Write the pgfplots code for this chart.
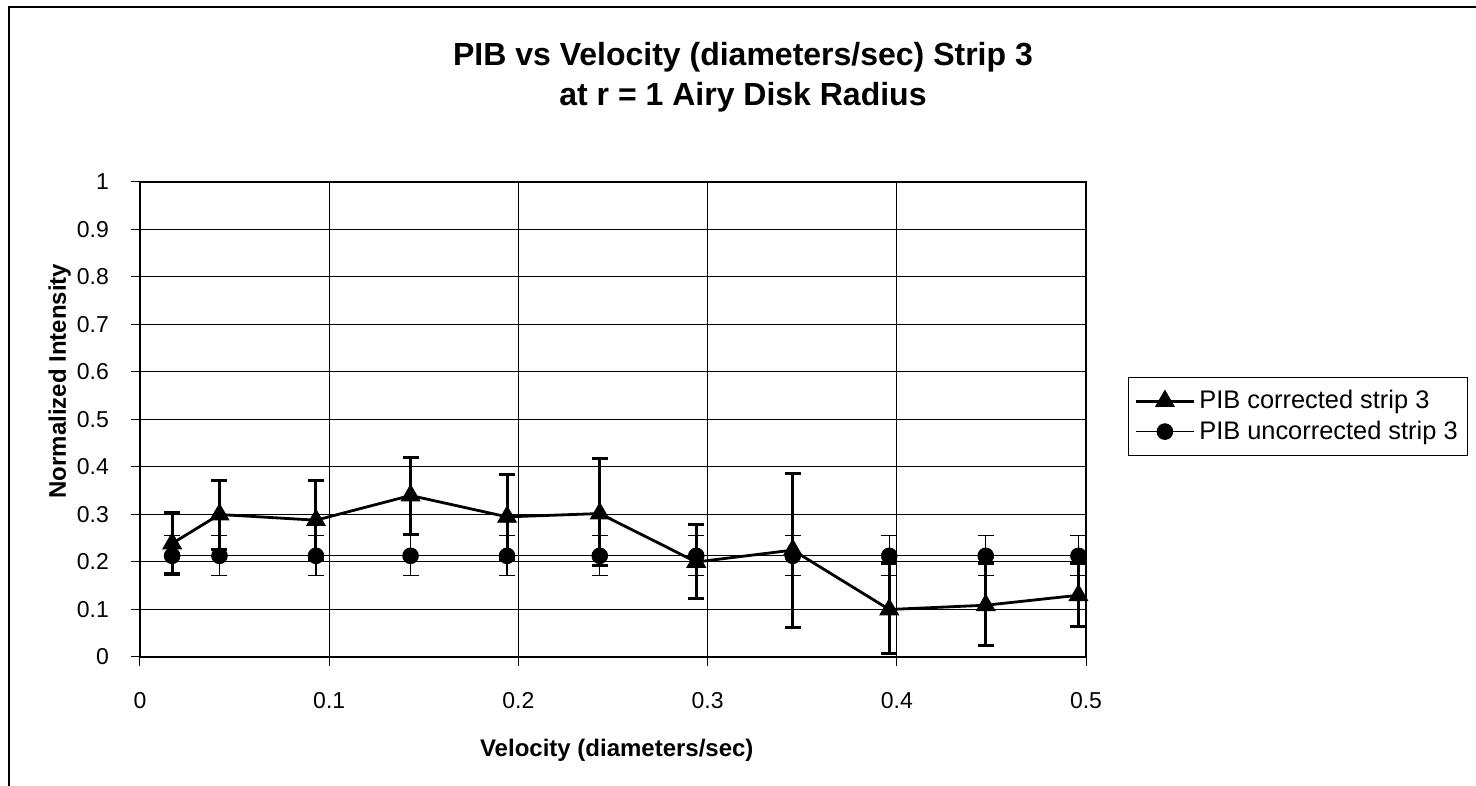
\documentclass[border=0pt]{standalone}
\usepackage{fontspec}
\setmainfont{Liberation Sans}
\usepackage{pgfplots}
\usepackage{pgfplotstable}
\pgfplotsset{compat=1.18}

\pgfplotstableread{
x     y     ep    em
0.017 0.239 0.065 0.063
0.042 0.300 0.072 0.074
0.093 0.288 0.084 0.084
0.143 0.340 0.081 0.082
0.194 0.295 0.089 0.089
0.243 0.302 0.116 0.110
0.294 0.200 0.079 0.077
0.345 0.225 0.162 0.163
0.396 0.100 0.097 0.092
0.447 0.109 0.088 0.084
0.496 0.130 0.067 0.065
}\corrected

\pgfplotstableread{
x     y     ep    em
0.017 0.213 0.042 0.042
0.042 0.213 0.042 0.042
0.093 0.213 0.042 0.042
0.143 0.213 0.042 0.042
0.194 0.213 0.042 0.042
0.243 0.213 0.042 0.042
0.294 0.213 0.042 0.042
0.345 0.213 0.042 0.042
0.396 0.213 0.042 0.042
0.447 0.213 0.042 0.042
0.496 0.213 0.042 0.042
}\uncorrected

\begin{document}
\begin{tikzpicture}
\useasboundingbox (0pt,0pt) rectangle (738pt,393pt);
\draw[line width=1pt] (4.5pt,-10pt) -- (4.5pt,389.5pt) -- (760pt,389.5pt);
\node[font=\bfseries\fontsize{16}{19}\selectfont] at (371.5pt,364.5pt) {PIB vs Velocity (diameters/sec) Strip 3};
\node[font=\bfseries\fontsize{16}{19}\selectfont] at (371.5pt,344.5pt) {at r = 1 Airy Disk Radius};
\begin{axis}[
  at={(70pt,64.5pt)}, anchor=south west,
  scale only axis, width=473pt, height=237.5pt,
  xmin=0, xmax=0.5, ymin=0, ymax=1,
  xtick={0,0.1,0.2,0.3,0.4,0.5},
  ytick={0,0.1,0.2,0.3,0.4,0.5,0.6,0.7,0.8,0.9,1},
  xticklabels={0,0.1,0.2,0.3,0.4,0.5},
  yticklabels={0,0.1,0.2,0.3,0.4,0.5,0.6,0.7,0.8,0.9,1},
  tick align=outside, major tick length=4.5pt,
  xtick pos=bottom, ytick pos=left,
  tick style={black, line width=0.5pt},
  grid=major,
  major grid style={black, line width=0.5pt},
  axis line style={black, line width=0.6pt},
  ticklabel style={font=\fontsize{11.5}{13}\selectfont},
  xticklabel style={yshift=-9.5pt},
  yticklabel style={xshift=-7.5pt},
  xlabel={Velocity (diameters/sec)},
  ylabel={Normalized Intensity},
  xlabel style={font=\bfseries\fontsize{12}{14}\selectfont, at={(axis description cs:0.504,-0.196)}, anchor=center},
  ylabel style={font=\bfseries\fontsize{12}{14}\selectfont, at={(axis description cs:-0.085,0.581)}, anchor=center},
  legend style={at={(rel axis cs:1.0444,0.5895)}, anchor=north west,
    draw=black, line width=0.5pt, font=\fontsize{12.7}{14.5}\selectfont,
    inner xsep=3pt, inner ysep=4.5pt, row sep=0.5pt},
  legend cell align=left,
  legend image code/.code={\draw[mark repeat=2,mark phase=2,#1] plot coordinates {(0pt,0pt) (14.5pt,0pt) (29pt,0pt)};},
  clip=false,
]
\addplot[black, line width=1.4pt, mark=triangle*, mark size=5.4pt,
  mark options={solid, fill=black, line width=0.4pt},
  error bars/.cd, y dir=both, y explicit,
  error bar style={line width=1.5pt},
  error mark options={rotate=90, mark size=4pt, line width=1.5pt}]
  table[x=x, y=y, y error plus=ep, y error minus=em] {\corrected};
\addlegendentry{PIB corrected strip 3}
\addplot[black, line width=0.5pt, mark=*, mark size=3.9pt,
  mark options={solid, fill=black},
  error bars/.cd, y dir=both, y explicit,
  error bar style={line width=0.6pt},
  error mark options={rotate=90, mark size=4pt, line width=0.6pt}]
  table[x=x, y=y, y error plus=ep, y error minus=em] {\uncorrected};
\addlegendentry{PIB uncorrected strip 3}
\end{axis}
\end{tikzpicture}
\end{document}
